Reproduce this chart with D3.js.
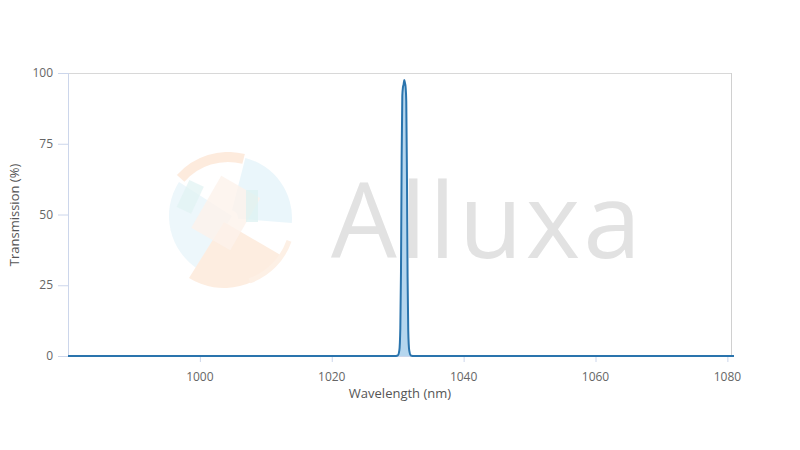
<!DOCTYPE html>
<html><head><meta charset="utf-8">
<script src="https://cdn.jsdelivr.net/npm/d3@7"></script>
<style>body{margin:0;background:#fff}svg{display:block}</style>
</head><body>
<svg id="c" width="800" height="450"></svg>
<script>
const wavelength = [980, 1029.5, 1030.0, 1030.25, 1030.4, 1030.5, 1030.6, 1030.7, 1030.8, 1030.9, 1031.0, 1031.1, 1031.2, 1031.3, 1031.4, 1031.5, 1031.6, 1031.75, 1032.0, 1032.5, 1081];
const transmission = [0, 0, 0.2, 2, 10, 30, 70, 92, 95, 96, 97.5, 96.5, 95, 90, 65, 28, 9, 2, 0.2, 0, 0];
const xTicks = [1000, 1020, 1040, 1060, 1080];
const yTicks = [0, 25, 50, 75, 100];

const svg = d3.select('#c');
const m = {l: 68, r: 732, t: 73, b: 356};
const x = d3.scaleLinear().domain([980, 1080.7]).range([m.l, m.r]);
const y = d3.scaleLinear().domain([0, 100]).range([m.b, m.t]);
const font = "'Open Sans', 'DejaVu Sans', sans-serif";

// watermark logo
const cx = 228, cy = 220;
const g = svg.append('g').attr('transform', `translate(${cx},${cy})`).attr('opacity', 0.7);
const arc = d3.arc();
g.append('path').attr('d', arc({innerRadius: 58, outerRadius: 68, startAngle: -0.85, endAngle: 0.25})).attr('fill', '#fde3d0');
g.append('path').attr('d', arc({innerRadius: 0, outerRadius: 63, startAngle: -2.6, endAngle: -1.0})).attr('fill', '#e6f4fa').attr('transform', 'translate(4,-4)');
g.append('path').attr('d', arc({innerRadius: 8, outerRadius: 62, startAngle: 0.25, endAngle: 1.65})).attr('fill', '#e2f3fa').attr('transform', 'translate(2,-2)');
g.append('path').attr('d', arc({innerRadius: 0, outerRadius: 66, startAngle: 2.1, endAngle: 3.7})).attr('fill', '#fde6d4').attr('transform', 'translate(-4,2)');
g.append('rect').attr('x', -28).attr('y', -35).attr('width', 45).attr('height', 60).attr('fill', '#fdeee3').attr('opacity', 0.8).attr('transform', 'rotate(30)');
g.append('path').attr('d', arc({innerRadius: 62, outerRadius: 67, startAngle: 1.9, endAngle: 2.8})).attr('fill', '#fdeadb');
g.append('rect').attr('x', -52).attr('y', -20).attr('width', 16).attr('height', 30).attr('fill', '#d4eeee').attr('opacity', 0.7).attr('transform', 'rotate(25)');
g.append('rect').attr('x', 18).attr('y', -30).attr('width', 12).attr('height', 32).attr('fill', '#cdeceb').attr('opacity', 0.7);
svg.append('text').attr('x', 331).attr('y', 258).attr('font-family', font).attr('font-size', 104).attr('fill', '#e2e2e2').attr('textLength', 310).text('Alluxa');

// frame
svg.append('line').attr('x1', m.l).attr('x2', m.r).attr('y1', m.t + 0.5).attr('y2', m.t + 0.5).attr('stroke', '#d8d8d8');
svg.append('line').attr('x1', m.r - 0.5).attr('x2', m.r - 0.5).attr('y1', m.t).attr('y2', m.b).attr('stroke', '#d0d0d0');
svg.append('line').attr('x1', m.l + 0.5).attr('x2', m.l + 0.5).attr('y1', m.t).attr('y2', m.b).attr('stroke', '#ccd6eb');

// y axis
const ya = svg.append('g');
yTicks.forEach(t => {
  ya.append('line').attr('x1', 58).attr('x2', m.l).attr('y1', y(t) + 0.5).attr('y2', y(t) + 0.5).attr('stroke', '#ccd6eb');
  ya.append('text').attr('x', 53).attr('y', y(t) + 4).attr('text-anchor', 'end').attr('font-family', font).attr('font-size', 12).attr('fill', '#666').text(t);
});
// x axis
const xa = svg.append('g');
xa.append('line').attr('x1', m.l).attr('x2', m.r).attr('y1', m.b + 0.5).attr('y2', m.b + 0.5).attr('stroke', '#ccd6eb');
xTicks.forEach(t => {
  xa.append('line').attr('x1', x(t) + 0.5).attr('x2', x(t) + 0.5).attr('y1', m.b).attr('y2', m.b + 6).attr('stroke', '#ccd6eb');
  xa.append('text').attr('x', x(t)).attr('y', m.b + 25).attr('text-anchor', 'middle').attr('font-family', font).attr('font-size', 12).attr('fill', '#666').text(t);
});
svg.append('text').attr('x', 400).attr('y', 398).attr('text-anchor', 'middle').attr('font-family', font).attr('font-size', 13).attr('fill', '#555').text('Wavelength (nm)');
svg.append('text').attr('transform', 'translate(19,215) rotate(-90)').attr('text-anchor', 'middle').attr('font-family', font).attr('font-size', 13).attr('fill', '#555').text('Transmission (%)');

// series
const data = wavelength.map((w, i) => [w, transmission[i]]);
svg.append('path').datum(data).attr('d', d3.area().x(d => x(d[0])).y0(y(0)).y1(d => y(d[1])).curve(d3.curveMonotoneX)).attr('fill', '#9cc8e8').attr('opacity', 0.75);
svg.append('path').datum(data).attr('d', d3.line().x(d => x(d[0])).y(d => y(d[1])).curve(d3.curveMonotoneX)).attr('fill', 'none').attr('stroke', '#2a74ad').attr('stroke-width', 2);
</script>
</body></html>
